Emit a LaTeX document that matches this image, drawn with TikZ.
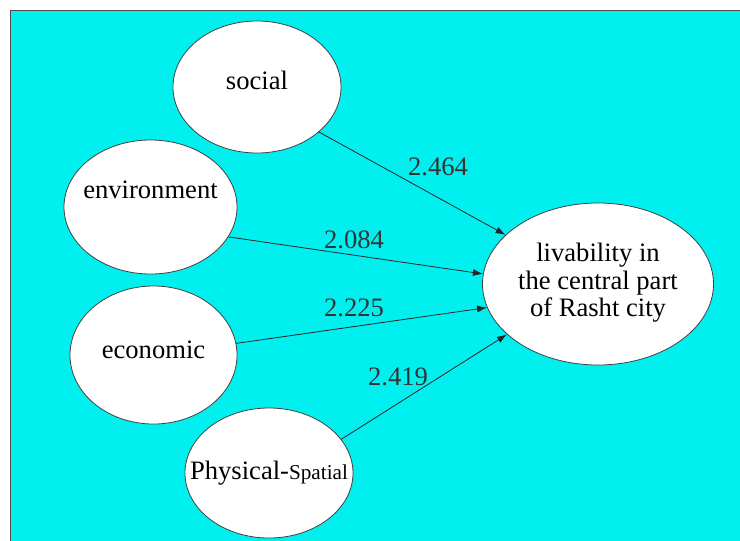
\documentclass[tikz,border=0pt]{standalone}
\usepackage{fontspec}
\setmainfont{Liberation Serif}
\newfontfamily\timesface{Liberation Serif}
\usetikzlibrary{shapes.geometric, arrows.meta}
\definecolor{bgcyan}{RGB}{0,240,240}

\begin{document}
\begin{tikzpicture}[x=0.5pt, y=-0.5pt,
        factor/.style={ellipse, draw=black!75, fill=white, inner sep=0pt, line width=0.4pt},
        weight/.style={text=black!80, inner sep=0pt},
        link/.style={-{Latex[length=5pt,width=3.5pt]}, line width=0.4pt, black!85},
        font=\timesface\fontsize{13.3}{13.8}\selectfont]
                        \useasboundingbox (0,0) rectangle (740,541);
                        \fill[bgcyan] (10,10) rectangle (740,541);
                        \draw[black!70] (10,541) -- (10,10) -- (740,10);

                        \node[factor, minimum width=84pt, minimum height=66pt, label={[yshift=3.5pt]center:social}] (soc) at (257, 87) {};
                        \node[factor, minimum width=86.5pt, minimum height=67pt, label={[yshift=8.5pt]center:environment}] (env) at (150.5, 207) {};
                        \node[factor, minimum width=83.5pt, minimum height=69pt, label={[yshift=2.5pt]center:economic}] (eco) at (153.5, 355) {};
                        \node[factor, minimum width=84pt, minimum height=65pt, label={center:Physical-{\fontsize{10.6}{12}\selectfont Spatial}}] (phy) at (269, 473) {};
                        \node[factor, minimum width=115.5pt, minimum height=81pt, label={[align=center, yshift=0.5pt]center:livability in\\the central part\\of Rasht city}] (liv) at (598, 284) {};

                        \node[weight] (w1) at (438, 167) {2.464};
                        \node[weight] (w2) at (354, 240) {2.084};
                        \node[weight] (w3) at (354, 308) {2.225};
                        \node[weight] (w4) at (398, 377) {2.419};

                        \path
                        (soc.-36) edge[link] (liv.152)
                        (env.-21) edge[link] (liv.175)
                        (eco.8) edge[link] (liv.192)
                        (phy.25) edge[link] (liv.209);
                    \end{tikzpicture}
\end{document}
